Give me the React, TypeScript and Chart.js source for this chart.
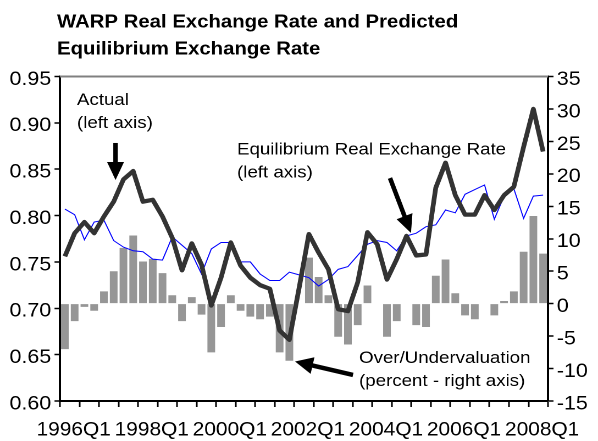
import React, { useEffect, useRef } from 'react';
import { Chart, registerables } from 'chart.js';

Chart.register(...registerables);

// ---------------- data ----------------
const quarters = [
  '1996Q1', '1996Q2', '1996Q3', '1996Q4',
  '1997Q1', '1997Q2', '1997Q3', '1997Q4',
  '1998Q1', '1998Q2', '1998Q3', '1998Q4',
  '1999Q1', '1999Q2', '1999Q3', '1999Q4',
  '2000Q1', '2000Q2', '2000Q3', '2000Q4',
  '2001Q1', '2001Q2', '2001Q3', '2001Q4',
  '2002Q1', '2002Q2', '2002Q3', '2002Q4',
  '2003Q1', '2003Q2', '2003Q3', '2003Q4',
  '2004Q1', '2004Q2', '2004Q3', '2004Q4',
  '2005Q1', '2005Q2', '2005Q3', '2005Q4',
  '2006Q1', '2006Q2', '2006Q3', '2006Q4',
  '2007Q1', '2007Q2', '2007Q3', '2007Q4',
  '2008Q1', '2008Q2',
];

const xTickLabels = ['1996Q1', '1998Q1', '2000Q1', '2002Q1', '2004Q1', '2006Q1', '2008Q1'];

// Actual real exchange rate (left axis)
const actualRate = [
  0.756, 0.781, 0.793, 0.781, 0.799, 0.815, 0.839, 0.848, 0.815, 0.817,
  0.799, 0.776, 0.741, 0.770, 0.747, 0.703, 0.733, 0.771, 0.746, 0.733,
  0.725, 0.721, 0.676, 0.666, 0.722, 0.780, 0.760, 0.742, 0.699, 0.697,
  0.728, 0.782, 0.769, 0.731, 0.753, 0.778, 0.757, 0.758, 0.830, 0.857,
  0.822, 0.801, 0.801, 0.822, 0.806, 0.822, 0.831, 0.874, 0.915, 0.869,
];

// Equilibrium real exchange rate (left axis)
const equilibriumRate = [
  0.807, 0.801, 0.774, 0.793, 0.795, 0.773, 0.766, 0.762, 0.761, 0.753,
  0.752, 0.777, 0.768, 0.759, 0.737, 0.764, 0.771, 0.771, 0.750, 0.750,
  0.737, 0.730, 0.730, 0.739, 0.736, 0.733, 0.724, 0.731, 0.742, 0.745,
  0.757, 0.769, 0.773, 0.771, 0.762, 0.778, 0.781, 0.788, 0.790, 0.806,
  0.803, 0.823, 0.828, 0.833, 0.796, 0.821, 0.829, 0.797, 0.821, 0.822,
];

// Over/undervaluation, percent (right axis)
const overUnderValuation = [
  -7.0, -2.7, -0.5, -1.1, 1.9, 5.0, 8.6, 10.5, 6.5, 6.9,
  4.7, 1.3, -2.7, 1.0, -1.7, -7.5, -3.6, 1.3, -1.1, -2.0,
  -2.4, -2.0, -7.5, -8.8, 0, 7.1, 4.1, 1.3, -5.1, -6.3,
  -3.3, 2.8, 0, -5.1, -2.7, 0, -3.3, -3.6, 4.3, 6.8,
  1.6, -1.8, -2.4, 0, -1.8, 0.4, 1.9, 8.0, 13.5, 7.7,
];

const leftAxis = { min: 0.6, max: 0.95, step: 0.05 };
const rightAxis = { min: -15, max: 35, step: 5 };

const titleLines = ['WARP Real Exchange Rate and Predicted', 'Equilibrium Exchange Rate'];

// annotations anchored in data coordinates: [category index, axis value]
const notes = [
  { lines: ['Actual', '(left axis)'], at: [1.24, 0.9193], axis: 'y' },
  { lines: ['Equilibrium Real Exchange Rate', '(left axis)'], at: [17.64, 0.8659], axis: 'y' },
  { lines: ['Over/Undervaluation', '(percent - right axis)'], at: [30.14, -9.14], axis: 'y1' },
];

const arrows = [
  { from: [5.19, 0.8783], to: [5.19, 0.8384], axis: 'y' },
  { from: [33.31, 0.8405], to: [35.46, 0.7812], axis: 'y' },
  { from: [29.52, -10.99], to: [23.58, -8.91], axis: 'y1' },
];

// ---------------- layout ----------------
const OUT_W = 598;
const OUT_H = 441;
const STRETCH = 1.1;
const IN_W = Math.round(OUT_W / STRETCH);
const SX = OUT_W / IN_W;
const FONT = '"Liberation Sans", Arial, Helvetica, sans-serif';

function drawArrow(ctx: CanvasRenderingContext2D, x1: number, y1: number, x2: number, y2: number) {
  const dx = x2 - x1;
  const dy = y2 - y1;
  const len = Math.hypot(dx, dy) || 1;
  const ux = dx / len;
  const uy = dy / len;
  const headLen = 18;
  const headHalf = 8.5;
  const bx = x2 - ux * headLen;
  const by = y2 - uy * headLen;
  ctx.strokeStyle = '#000';
  ctx.lineWidth = 4.5;
  ctx.lineCap = 'butt';
  ctx.beginPath();
  ctx.moveTo(x1, y1);
  ctx.lineTo(bx + ux * 2, by + uy * 2);
  ctx.stroke();
  ctx.fillStyle = '#000';
  ctx.beginPath();
  ctx.moveTo(x2, y2);
  ctx.lineTo(bx - uy * headHalf, by + ux * headHalf);
  ctx.lineTo(bx + uy * headHalf, by - ux * headHalf);
  ctx.closePath();
  ctx.fill();
}

const decorPlugin = {
  id: 'decor',
  afterDraw(chart: any) {
    const { ctx, chartArea, scales } = chart;
    const xs = scales.x;
    ctx.save();
    // top frame line
    ctx.strokeStyle = '#808080';
    ctx.lineWidth = 2;
    ctx.beginPath();
    ctx.moveTo(chartArea.left, chartArea.top);
    ctx.lineTo(chartArea.right, chartArea.top);
    ctx.stroke();

    // title
    ctx.fillStyle = '#000';
    ctx.textAlign = 'left';
    ctx.textBaseline = 'alphabetic';
    ctx.font = `bold 18.5px ${FONT}`;
    titleLines.forEach((t, k) => ctx.fillText(t, 57 / SX, 27.5 + k * 27));

    // notes
    ctx.font = `17px ${FONT}`;
    notes.forEach((n) => {
      const x = xs.getPixelForValue(n.at[0]);
      const y = scales[n.axis].getPixelForValue(n.at[1]);
      n.lines.forEach((t, k) => ctx.fillText(t, x, y + k * 23));
    });

    // arrows, drawn in undistorted output space
    arrows.forEach((a) => {
      const ys = scales[a.axis];
      const x1 = xs.getPixelForValue(a.from[0]) * SX;
      const y1 = ys.getPixelForValue(a.from[1]);
      const x2 = xs.getPixelForValue(a.to[0]) * SX;
      const y2 = ys.getPixelForValue(a.to[1]);
      ctx.save();
      ctx.scale(1 / SX, 1);
      drawArrow(ctx, x1, y1, x2, y2);
      ctx.restore();
    });
    ctx.restore();
  },
};

export default function App() {
  const canvasRef = useRef<HTMLCanvasElement | null>(null);

  useEffect(() => {
    const canvas = canvasRef.current;
    if (!canvas) return;
    Chart.defaults.font.family = FONT;
    Chart.defaults.color = '#000';

    const chart = new Chart(canvas, {
      type: 'bar',
      data: {
        labels: quarters,
        datasets: [
          {
            type: 'line',
            label: 'Actual',
            data: actualRate,
            yAxisID: 'y',
            borderColor: '#333333',
            borderWidth: 4.3,
            pointRadius: 0,
            tension: 0,
            fill: false,
            borderJoinStyle: 'round',
            order: 0,
          } as any,
          {
            type: 'line',
            label: 'Equilibrium',
            data: equilibriumRate,
            yAxisID: 'y',
            borderColor: '#0000ff',
            borderWidth: 1,
            pointRadius: 0,
            tension: 0,
            fill: false,
            order: 1,
          } as any,
          {
            type: 'bar',
            label: 'Over/Undervaluation',
            data: overUnderValuation,
            yAxisID: 'y1',
            backgroundColor: '#969696',
            borderWidth: 0,
            barPercentage: 0.79,
            categoryPercentage: 1,
            order: 2,
          } as any,
        ],
      },
      options: {
        responsive: false,
        devicePixelRatio: 2,
        animation: false,
        layout: { padding: { top: 76.5, left: 0, right: 0, bottom: 0 } },
        plugins: {
          legend: { display: false },
          title: { display: false },
          tooltip: { enabled: false },
        },
        scales: {
          x: {
            type: 'category',
            offset: true,
            grid: {
              display: true,
              offset: true,
              drawOnChartArea: false,
              drawTicks: true,
              tickLength: 6,
              tickWidth: 1.5,
              tickColor: (c: any) =>
                c.index === undefined || c.index % 2 === 0 ? '#000' : 'rgba(0,0,0,0)',
            },
            border: { display: true, color: '#000', width: 2 },
            ticks: {
              autoSkip: false,
              maxRotation: 0,
              minRotation: 0,
              padding: 12,
              labelOffset: 8,
              color: '#000',
              font: { size: 19 },
              callback: (_v: any, i: number) =>
                xTickLabels.includes(quarters[i]) ? quarters[i] : '',
            },
            afterFit: (s: any) => {
              s.height = OUT_H - 401;
            },
          },
          y: {
            position: 'left',
            min: leftAxis.min,
            max: leftAxis.max,
            grid: {
              drawOnChartArea: false,
              tickLength: 5,
              tickWidth: 1.5,
              tickColor: '#000',
            },
            border: { display: true, color: '#000', width: 2 },
            ticks: {
              stepSize: leftAxis.step,
              padding: 3,
              labelOffset: 3,
              color: '#000',
              font: { size: 19.5 },
              callback: (v: any) => Number(v).toFixed(2),
            },
            afterFit: (s: any) => {
              s.width = 60 / SX;
            },
          },
          y1: {
            position: 'right',
            min: rightAxis.min,
            max: rightAxis.max,
            grid: {
              drawOnChartArea: false,
              tickLength: 5,
              tickWidth: 1.5,
              tickColor: '#000',
            },
            border: { display: true, color: '#000', width: 2 },
            ticks: {
              stepSize: rightAxis.step,
              padding: 3,
              labelOffset: 3,
              color: '#000',
              font: { size: 19.5 },
              callback: (v: any) => String(Math.round(Number(v))),
            },
            afterFit: (s: any) => {
              s.width = IN_W - 548 / SX;
            },
          },
        },
      } as any,
      plugins: [decorPlugin],
    });

    return () => {
      chart.destroy();
    };
  }, []);

  return (
    <div
      style={{
        position: 'fixed',
        left: 0,
        top: 0,
        width: OUT_W,
        height: OUT_H,
        background: '#fff',
        overflow: 'hidden',
      }}
    >
      <canvas
        ref={canvasRef}
        width={IN_W}
        height={OUT_H}
        style={{ width: OUT_W + 'px', height: OUT_H + 'px', display: 'block' }}
      />
    </div>
  );
}
